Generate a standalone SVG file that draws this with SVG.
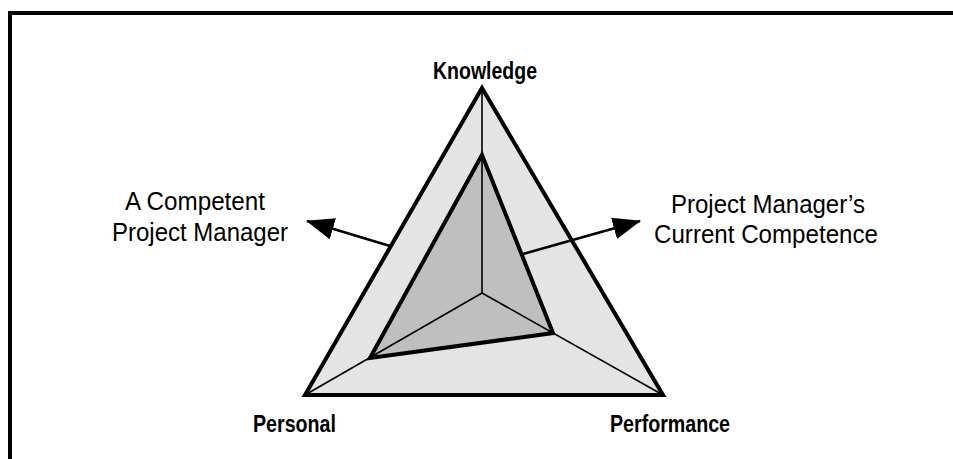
<svg xmlns="http://www.w3.org/2000/svg" width="953" height="459" viewBox="0 0 953 459">
  <style>
    .bold { font-family: "Liberation Sans Narrow", "Liberation Sans", Arial, sans-serif; font-weight: bold; font-size: 23px; fill: #000; }
    .reg { font-family: "Liberation Sans Narrow", "Liberation Sans", Arial, sans-serif; font-size: 26px; fill: #000; }
    .thick { stroke: #000; stroke-width: 4; stroke-linejoin: miter; }
    .spoke { stroke: #000; stroke-width: 1.6; fill: none; }
    .conn { stroke: #000; stroke-width: 2.5; fill: none; }
  </style>
  <defs>
    <marker id="arrow" viewBox="0 0 28 22" refX="27" refY="11" markerWidth="28" markerHeight="22" markerUnits="userSpaceOnUse" orient="auto">
      <path d="M0,0 L28,11 L0,22 Z" fill="#000"/>
    </marker>
  </defs>
  <rect width="953" height="459" fill="#fff"/>
  <path d="M10,459 V13 H953" fill="none" stroke="#000" stroke-width="4"/>

  <g id="chart">
    <polygon class="thick" points="482,88 663,395 305,395" fill="#e4e4e4"/>
    <polygon points="482,155 553,333 370,358" fill="#bfbfbf"/>
    <path class="spoke" d="M482,293 L482,88 M482,293 L663,395 M482,293 L305,395"/>
    <polygon class="thick" points="482,155 553,333 370,358" fill="none"/>
  </g>

  <g id="connectors">
    <line class="conn" x1="390" y1="246" x2="307" y2="221" marker-end="url(#arrow)"/>
    <line class="conn" x1="523" y1="254" x2="640" y2="221" marker-end="url(#arrow)"/>
  </g>

  <g id="knowledge">
    <text class="bold" x="433" y="79" textLength="104" lengthAdjust="spacingAndGlyphs">Knowledge</text>
  </g>
  <g id="personal">
    <text class="bold" x="253" y="432" textLength="83" lengthAdjust="spacingAndGlyphs">Personal</text>
  </g>
  <g id="performance">
    <text class="bold" x="610" y="432" textLength="120" lengthAdjust="spacingAndGlyphs">Performance</text>
  </g>
  <g id="competent">
    <text class="reg" x="125" y="210" textLength="140" lengthAdjust="spacingAndGlyphs">A Competent</text>
    <text class="reg" x="112" y="241" textLength="176" lengthAdjust="spacingAndGlyphs">Project Manager</text>
  </g>
  <g id="current">
    <text class="reg" x="671" y="213" textLength="194" lengthAdjust="spacingAndGlyphs">Project Manager’s</text>
    <text class="reg" x="654" y="243" textLength="224" lengthAdjust="spacingAndGlyphs">Current Competence</text>
  </g>
</svg>
